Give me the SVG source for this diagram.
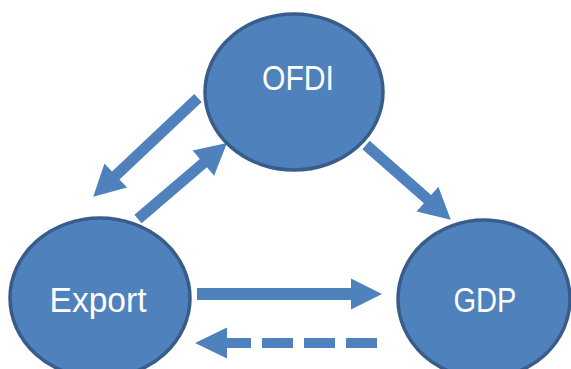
<svg xmlns="http://www.w3.org/2000/svg" width="571" height="369" viewBox="0 0 571 369">
<style>
.node{fill:#4f81bd;stroke:#385d8a;stroke-width:3.5}
.lbl{font-family:"Liberation Sans","Open Sans",sans-serif;font-size:35px;fill:#ffffff;text-anchor:middle}
.arr{fill:#4f81bd;stroke:none}
.dash{fill:none;stroke:#4f81bd;stroke-width:10;stroke-dasharray:31 11}
</style>
<rect width="571" height="369" fill="#ffffff"/>
<g id="connectors">
<path class="arr" transform="translate(198,98) rotate(136.7)" d="M0,-5.5 H113 V-16.5 L144,0 L113,16.5 V5.5 H0 Z"/>
<path class="arr" transform="translate(138,219) rotate(-40.5)" d="M0,-5.5 H86 V-16.5 L117,0 L86,16.5 V5.5 H0 Z"/>
<path class="arr" transform="translate(366,145) rotate(41.4)" d="M0,-5.5 H82 V-16.5 L113,0 L82,16.5 V5.5 H0 Z"/>
<path class="arr" transform="translate(197,294)" d="M0,-6 H154 V-15.5 L185,0 L154,15.5 V6 H0 Z"/>
<path class="dash" d="M377,343 H227"/>
<path class="arr" d="M195,343 L227,327.5 V358.5 Z"/>
</g>
<g id="ofdi">
<ellipse class="node" cx="294" cy="92" rx="89" ry="78"/>
<text class="lbl" x="298" y="90" textLength="72" lengthAdjust="spacingAndGlyphs">OFDI</text>
</g>
<g id="export">
<ellipse class="node" cx="100" cy="298" rx="90" ry="80"/>
<text class="lbl" x="98" y="312" textLength="97" lengthAdjust="spacingAndGlyphs">Export</text>
</g>
<g id="gdp">
<ellipse class="node" cx="484" cy="299" rx="86" ry="79"/>
<text class="lbl" x="485" y="312" textLength="63" lengthAdjust="spacingAndGlyphs">GDP</text>
</g>
</svg>
